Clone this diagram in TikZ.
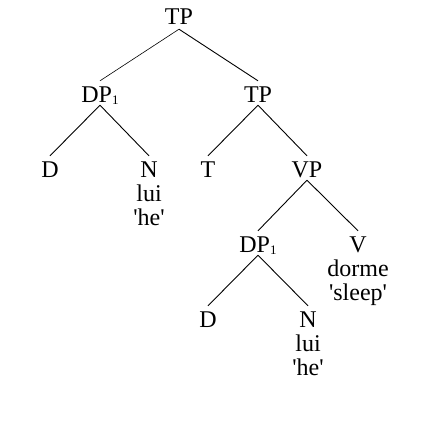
\documentclass[tikz,border=0pt]{standalone}
\usepackage{fontspec}
\setmainfont{Liberation Serif}
\usepackage{tikz}
\usetikzlibrary{positioning}
\newcommand{\subidx}[1]{\raisebox{-2pt}{\fontsize{13}{13}\selectfont #1}}
\newcommand{\gloss}[1]{\textquotesingle#1\textquotesingle}
\tikzset{
	every node/.style = {font=\fontsize{24}{25}\selectfont, inner sep=0pt, anchor=base},
	cat/.style = {text height=21pt, text depth=3pt},
	branch/.style = {line width=0.9pt}
}
\begin{document}
\begin{tikzpicture}[x=1pt, y=1pt]
		\useasboundingbox (0,0) rectangle (428,-420);
		% top
		\node[cat] (tp) at (179,-25) {TP};
		\node[cat] (dp) at (100,-102) {DP\subidx{1}};
		\node[cat] (tpb) at (258,-102) {TP};
		\draw[line width=0.6pt] ([yshift=-1pt]tp.south) -- (dp.north);
		\draw[branch] ([yshift=-1pt]tp.south) -- (tpb.north);
		% subject
		\node[cat] (d) at (50,-177) {D};
		\node[cat] (n) at (149,-177) {N};
		\node (nlui) at (149,-201) {lui};
		\node (nhe) at (149,-225) {\gloss{he}};
		\draw[branch] (dp.south) -- (d.north) (dp.south) -- (n.north);
		% T and VP
		\node[cat] (t) at (208,-177) {T};
		\node[cat] (vp) at (307,-177) {VP};
		\draw[branch] (tpb.south) -- (t.north) (tpb.south) -- (vp.north);
		\node[cat] (dpb) at (258,-252) {DP\subidx{1}};
		\node[cat] (v) at (358,-252) {V};
		\node (vdorme) at (358,-276) {dorme};
		\node (vsleep) at (358,-300) {\gloss{sleep}};
		\draw[branch] (vp.south) -- (dpb.north) (vp.south) -- (v.north);
		% lower DP
		\node[cat] (db) at (208,-327) {D};
		\node[cat] (nb) at (308,-327) {N};
		\node (nblui) at (308,-351) {lui};
		\node (nbhe) at (308,-375) {\gloss{he}};
		\draw[branch] (dpb.south) -- (db.north) (dpb.south) -- (nb.north);
	\end{tikzpicture}
\end{document}
